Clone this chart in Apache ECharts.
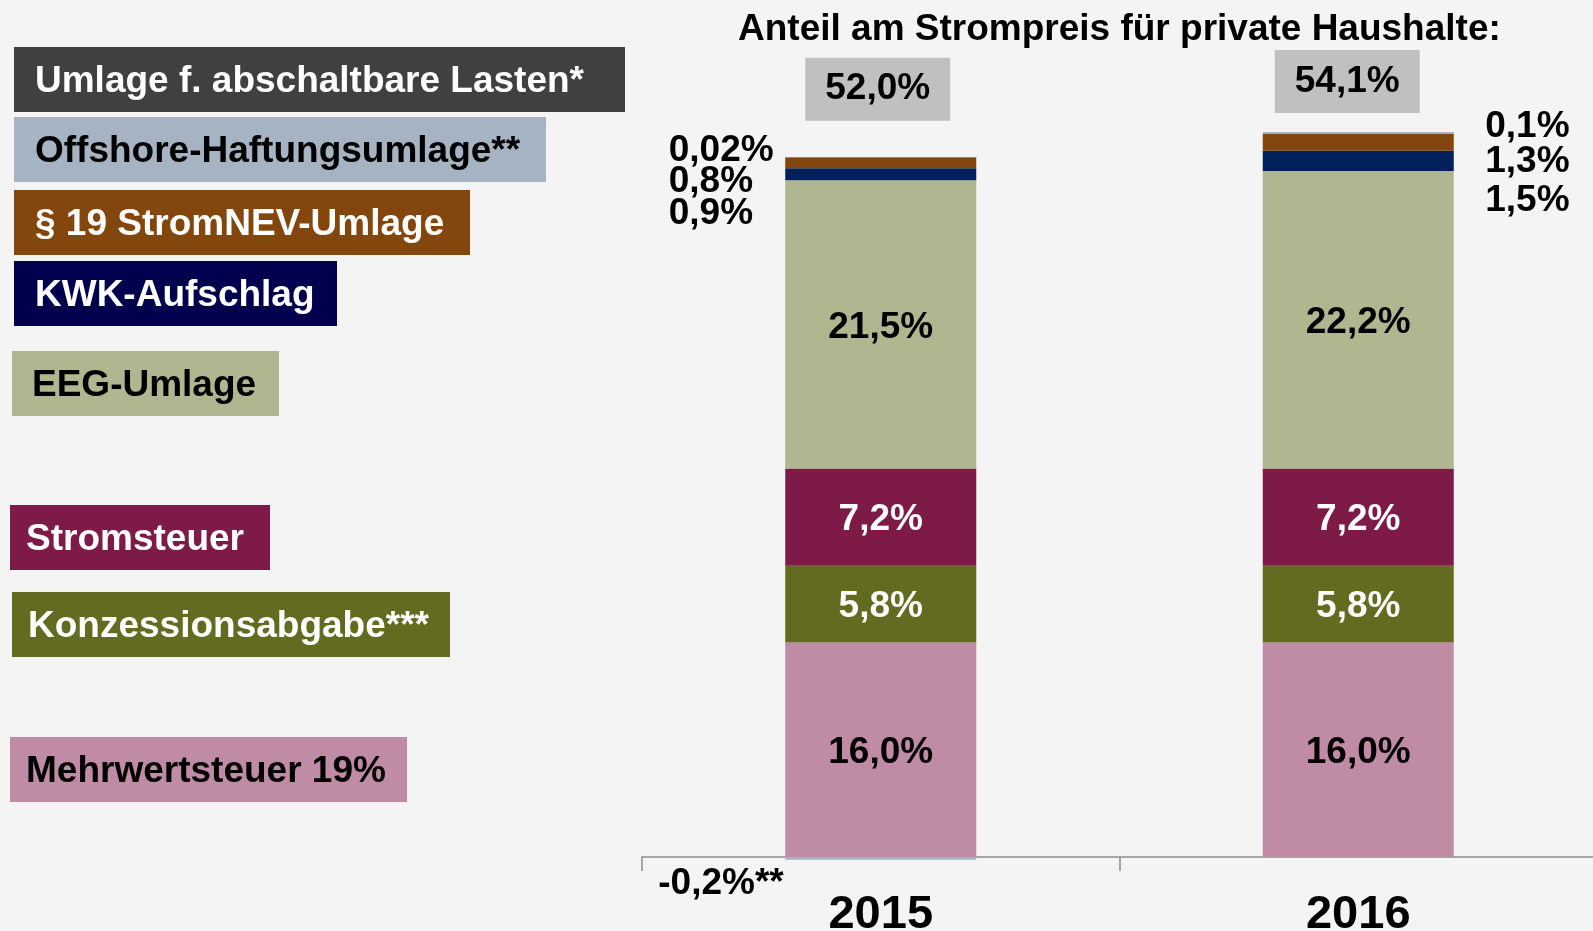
<!DOCTYPE html>
<html>
<head>
<meta charset="utf-8">
<script src="https://cdn.jsdelivr.net/npm/echarts@6/dist/echarts.min.js"></script>
<style>
html, body { margin: 0; padding: 0; background: #f4f4f4; }
#main { width: 1593px; height: 931px; }
</style>
</head>
<body>
<div id="main"></div>
<script>
var years = ['2015', '2016'];
var mwst = [16.0, 16.0];
var konzession = [5.8, 5.8];
var stromsteuer = [7.2, 7.2];
var eeg = [21.5, 22.2];
var kwk = [0.9, 1.5];
var stromnev = [0.8, 1.3];
var offshore = [-0.2, 0.1];
var abschaltbar = [0.02, 0];
var totals = [52.0, 54.1];
var legendNames = ['Umlage f. abschaltbare Lasten*', 'Offshore-Haftungsumlage**', '§ 19 StromNEV-Umlage',
    'KWK-Aufschlag', 'EEG-Umlage', 'Stromsteuer', 'Konzessionsabgabe***', 'Mehrwertsteuer 19%'];
var chartTitle = 'Anteil am Strompreis für private Haushalte:';

var FONT = '"Liberation Sans", Arial, sans-serif';
var colors = ['#404040', '#a6b3c3', '#83470d', '#00205c', '#b0b690', '#7d1a48', '#626b20', '#c08ba5'];
var legendColors = ['#404040', '#a6b3c3', '#83470d', '#00004e', '#b0b690', '#7d1a48', '#626b20', '#c08ba5'];
var legendText = ['#fff', '#000', '#fff', '#fff', '#000', '#fff', '#fff', '#000'];
// x, y, w, text inset
var legendBoxes = [[14, 47, 611, 21], [14, 117, 532, 21], [14, 190, 456, 21], [14, 261, 323, 21],
    [12, 351, 267, 20], [10, 505, 260, 16], [12, 592, 438, 16], [10, 737, 397, 16]];

function fmt(v) {
    var s = (v !== 0 && Math.abs(v) < 0.1) ? v.toFixed(2) : v.toFixed(1);
    return s.replace('.', ',') + '%';
}

var bigText = { fontFamily: FONT, fontWeight: 'bold', fontSize: 37, color: '#000' };

function segSeries(name, data, color, labelFn) {
    return {
        name: name,
        type: 'bar',
        stack: 'total',
        barWidth: 191,
        clip: false,
        itemStyle: { color: color },
        emphasis: { disabled: true },
        data: data.map(function (v, i) {
            var item = { value: v };
            var l = labelFn ? labelFn(v, i) : null;
            item.label = l ? l : { show: false };
            return item;
        })
    };
}

function sideLabel(pos, text) {
    return Object.assign({
        show: true, position: pos, align: 'left', verticalAlign: 'middle',
        formatter: text
    }, bigText);
}

function inside(color) {
    return function (v) {
        return Object.assign({ show: true, position: 'inside', offset: [0, 3], formatter: fmt(v) }, bigText, { color: color });
    };
}

var series = [
    segSeries(legendNames[7], mwst, colors[7], inside('#000')),
    segSeries(legendNames[6], konzession, colors[6], inside('#fff')),
    segSeries(legendNames[5], stromsteuer, colors[5], inside('#fff')),
    segSeries(legendNames[4], eeg, colors[4], inside('#000')),
    segSeries(legendNames[3], kwk, colors[3], function (v, i) {
        return sideLabel(i === 0 ? [-116.5, 46] : [222.5, 50], fmt(v));
    }),
    segSeries(legendNames[2], stromnev, colors[2], function (v, i) {
        return sideLabel(i === 0 ? [-116.5, 24] : [222.5, 28], fmt(v));
    }),
    segSeries(legendNames[1], offshore, colors[1], function (v, i) {
        if (i === 0) return sideLabel([-127, 27], fmt(v) + '**');
        return sideLabel([222.5, -5], fmt(v));
    }),
    segSeries(legendNames[0], abschaltbar, colors[0], function (v, i) {
        if (i === 0) return sideLabel([-116.5, -6], fmt(v));
        return null;
    }),
    {
        name: 'Summe',
        type: 'bar',
        stack: 'total',
        barWidth: 191,
        clip: false,
        itemStyle: { color: 'transparent' },
        emphasis: { disabled: true },
        data: totals.map(function (t, i) {
            return {
                value: 0,
                label: Object.assign({
                    show: true,
                    position: i === 0 ? [92.5, -68] : [84.5, -50.5],
                    align: 'center', verticalAlign: 'middle',
                    backgroundColor: '#c0c0c0',
                    padding: [18, 20, 8, 20],
                    formatter: fmt(t)
                }, bigText)
            };
        })
    }
];

var graphics = [{
    type: 'text', left: 738, top: 11,
    style: { text: chartTitle, font: 'bold 37px ' + FONT, fill: '#000' }
}];
legendBoxes.forEach(function (b, i) {
    graphics.push({
        type: 'rect', shape: { x: b[0], y: b[1], width: b[2], height: 65 },
        style: { fill: legendColors[i] }
    });
    graphics.push({
        type: 'text', x: b[0] + b[3], y: b[1] + 35,
        style: { text: legendNames[i], font: 'bold 37px ' + FONT, fill: legendText[i], verticalAlign: 'middle' }
    });
});

var chart = echarts.init(document.getElementById('main'));
chart.setOption({
    backgroundColor: '#f4f4f4',
    animation: false,
    grid: { left: 642, right: -4, top: 53, bottom: 74, outerBoundsMode: 'none', containLabel: false },
    xAxis: {
        type: 'category',
        data: years,
        axisLine: { lineStyle: { color: '#8c8c8c', width: 1.5 } },
        axisTick: { show: true, length: 14, lineStyle: { color: '#8c8c8c', width: 1.5 } },
        axisLabel: { margin: 35, fontFamily: FONT, fontWeight: 'bold', fontSize: 47, color: '#000' }
    },
    yAxis: {
        type: 'value', min: 0, max: 60, interval: 5,
        show: false, splitLine: { show: false }
    },
    series: series,
    graphic: graphics
});
</script>
</body>
</html>
